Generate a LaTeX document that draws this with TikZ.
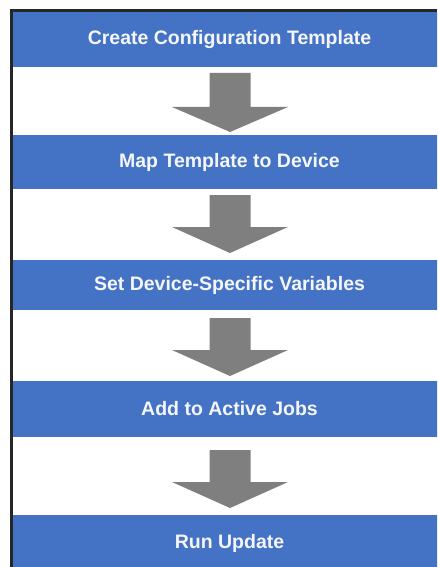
\documentclass[tikz,border=0pt]{standalone}
\usepackage{fontspec}
\setmainfont{Liberation Sans}
\definecolor{barblue}{HTML}{4472C4}
\definecolor{arrowgray}{HTML}{7F7F7F}
\definecolor{bartext}{HTML}{F4F6FA}
\newcommand\flowarrow[3]{%
  \fill[flow] (209.5,#1) -- (250.5,#1) -- (250.5,#2) -- (288,#2) -- (230,#3)
    -- (172,#2) -- (209.5,#2) -- cycle;}
\begin{document}
\begin{tikzpicture}[x=1pt,y=-1pt,
  bar/.style={fill=barblue, draw=none, minimum width=433pt, inner sep=0pt,
    text=bartext, font=\fontsize{19.5}{22}\selectfont\bfseries},
  flow/.style={fill=arrowgray, draw=none}]
\clip (0,0) rectangle (437,567);
\fill[white] (0,0) rectangle (437,567);
\fill[black!85] (10,9) rectangle (437,567);
\fill[white] (13,12) rectangle (437,567);
\node[bar, minimum height=55pt] (b1) at (229.5,39.5) {Create Configuration Template};
\node[bar, minimum height=54pt] (b2) at (229.5,162) {Map Template to Device};
\node[bar, minimum height=50pt] (b3) at (229.5,285) {Set Device-Specific Variables};
\node[bar, minimum height=56pt] (b4) at (229.5,409) {Add to Active Jobs};
\node[bar, minimum height=56pt] (b5) at (229.5,543) {Run Update};
\flowarrow{73}{107}{132}
\flowarrow{195}{227}{253}
\flowarrow{318}{350}{376}
\flowarrow{450}{482}{508}
\end{tikzpicture}
\end{document}
